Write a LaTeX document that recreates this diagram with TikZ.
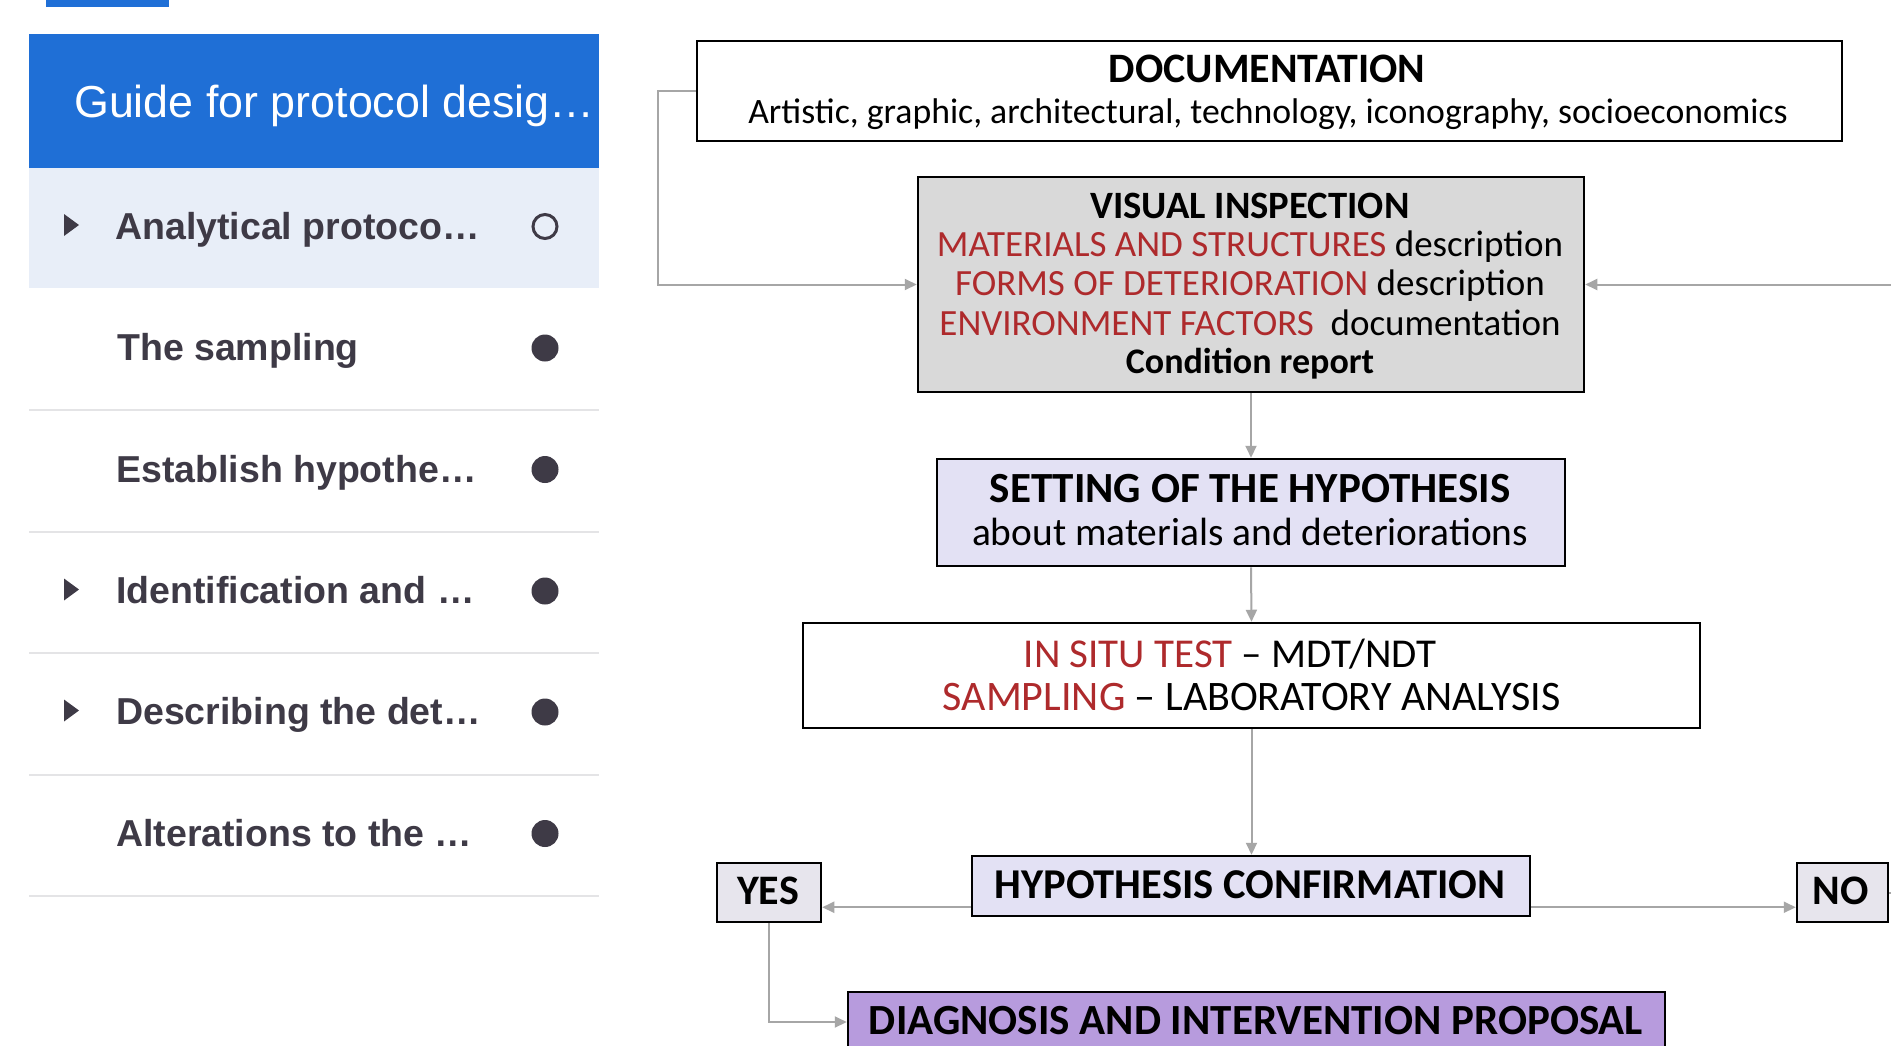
\documentclass[tikz,border=0pt]{standalone}
\usepackage{fontspec}
\setmainfont{Carlito}
\newfontfamily\arialf{Liberation Sans}
\newfontfamily\calf{Carlito}
\usetikzlibrary{arrows.meta}
\definecolor{hdrblue}{HTML}{1F6FD6}
\definecolor{selbg}{HTML}{E8EEF8}
\definecolor{sepgray}{HTML}{E4E4E6}
\definecolor{menutext}{HTML}{3E3A46}
\definecolor{dred}{HTML}{AE2A2C}
\definecolor{visgray}{HTML}{D9D9D9}
\definecolor{lav}{HTML}{E3E1F4}
\definecolor{yngray}{HTML}{E7E5ED}
\definecolor{diagpurple}{HTML}{B79BDD}
\definecolor{conngray}{HTML}{A6A6A6}
\newcommand\fsz[1]{\fontsize{#1}{#1}\selectfont}
\begin{document}
\begin{tikzpicture}[x=1pt,y=-1pt,
  box/.style={draw=black, line width=2.5pt, inner sep=0pt, rectangle},
  txt/.style={inner sep=0pt, anchor=base, text=black, font=\calf},
  menu/.style={inner sep=0pt, anchor=base west, text=menutext, font=\arialf\bfseries\fsz{37.5}},
  conn/.style={draw=conngray, line width=2pt, -{Triangle[length=12pt,width=11pt]}},
  connline/.style={draw=conngray, line width=2pt},
  sepline/.style={draw=sepgray, line width=2pt},
  tri/.style={fill=menutext},
  dot/.style={fill=menutext}
]
\useasboundingbox (0,0) rectangle (1891,1045);
\fill[white] (0,0) rectangle (1891,1045);

% ---------- left panel ----------
\fill[hdrblue] (46,0) rectangle (169,7);
\fill[hdrblue] (29,34) rectangle (599,168);
\node[inner sep=0pt, anchor=base west, text=white, font=\arialf\fsz{44.8}] (hdr) at (74,117) {Guide for protocol desig…};
\fill[selbg] (29,168) rectangle (599,288);

\foreach \y in {410,531.5,653,774.5,896}{
  \draw[sepline] (29,\y) -- (599,\y);
}

\node[menu] (m1) at (115,239) {Analytical protoco…};
\node[menu] (m2) at (117,360.5) {The sampling};
\node[menu] (m3) at (116,482) {Establish hypothe…};
\node[menu] (m4) at (116,603.5) {Identification and …};
\node[menu] (m5) at (116,724.5) {Describing the det…};
\node[menu] (m6) at (116,846) {Alterations to the …};

\foreach \b in {239,603.5,724.5}{
  \fill[tri] (64,\b-25) -- (79,\b-14) -- (64,\b-3) -- cycle;
}
\draw[menutext, line width=3pt] (545,226.5) circle (12);
\foreach \b in {360.5,482,603.5,724.5,846}{
  \fill[dot] (545,\b-12.5) circle (13.5);
}

% ---------- flowchart boxes ----------
\node[box, fill=white, minimum width=1145pt, minimum height=100pt] (doc) at (1269.5,91) {};
\node[box, fill=visgray, minimum width=666pt, minimum height=215pt] (vis) at (1251,284.5) {};
\node[box, fill=lav, minimum width=628pt, minimum height=107pt] (set) at (1251,512.5) {};
\node[box, fill=white, minimum width=897pt, minimum height=105pt] (situ) at (1251.5,675.5) {};
\node[box, fill=lav, minimum width=558pt, minimum height=60pt] (conf) at (1251,886) {};
\node[box, fill=yngray, minimum width=104pt, minimum height=59pt] (yes) at (769,892.5) {};
\node[box, fill=yngray, minimum width=91pt, minimum height=59pt] (no) at (1842.5,892.5) {};
\node[box, fill=diagpurple, minimum width=817pt, minimum height=60pt] (diag) at (1256.5,1022) {};

% ---------- texts ----------
\node[txt, font=\calf\bfseries\fsz{41.9}] (tdoc1) at (1267,82.5) {DOCUMENTATION};
\node[txt, font=\calf\fsz{35.7}] (tdoc2) at (1268,123.5) {Artistic, graphic, architectural, technology, iconography, socioeconomics};

\node[txt, font=\calf\bfseries\fsz{38.7}] (tvis1) at (1250,218) {VISUAL INSPECTION};
\node[txt, font=\calf\fsz{37}] (tvis2) at (1250,256) {\textcolor{dred}{MATERIALS AND STRUCTURES} description};
\node[txt, font=\calf\fsz{37}] (tvis3) at (1250,295.5) {\textcolor{dred}{FORMS OF DETERIORATION} description};
\node[txt, font=\calf\fsz{37}] (tvis4) at (1250,335) {\textcolor{dred}{ENVIRONMENT FACTORS}\ \ documentation};
\node[txt, font=\calf\bfseries\fsz{36}] (tvis5) at (1250,373.5) {Condition report};

\node[txt, font=\calf\bfseries\fsz{43}] (tset1) at (1250,502.5) {SETTING OF THE HYPOTHESIS};
\node[txt, font=\calf\fsz{39.4}] (tset2) at (1250,545.5) {about materials and deteriorations};

\node[txt, font=\calf\fsz{41}] (tsitu1) at (1230,667.5) {\textcolor{dred}{IN SITU TEST} – MDT/NDT};
\node[txt, font=\calf\fsz{42}] (tsitu2) at (1251.5,710) {\textcolor{dred}{SAMPLING} – LABORATORY ANALYSIS};

\node[txt, font=\calf\bfseries\fsz{42.5}] (tconf) at (1250,898.5) {HYPOTHESIS CONFIRMATION};
\node[txt, font=\calf\bfseries\fsz{42}] (tyes) at (768,904) {YES};
\node[txt, font=\calf\bfseries\fsz{42}] (tno) at (1841,904) {NO};
\node[txt, font=\calf\bfseries\fsz{43}] (tdiag) at (1256,1034.5) {DIAGNOSIS AND INTERVENTION PROPOSAL};

% ---------- connectors ----------
\coordinate (rightend) at (1891,284.5);
\coordinate (noend) at (1891,892.5);
\coordinate (cl) at ([yshift=10pt]conf.south west);
\coordinate (cr) at ([yshift=10pt]conf.south east);

\draw[conn] (doc.west) -- ++(-38,0) |- (vis.west);
\draw[conn] (rightend) -- (vis.east);
\draw[conn] (vis.south) -- (set.north);
\draw[conn] (set.south) -- (situ.north);
\draw[conn] (situ.south) -- (situ.south |- conf.north);
\draw[conn] (cl) -- (cl -| yes.east);
\draw[conn] (cr) -- (cr -| no.west);
\draw[conn] (yes.south) |- (diag.west);
\draw[connline] (no.east) -- (noend);
\end{tikzpicture}
\end{document}
